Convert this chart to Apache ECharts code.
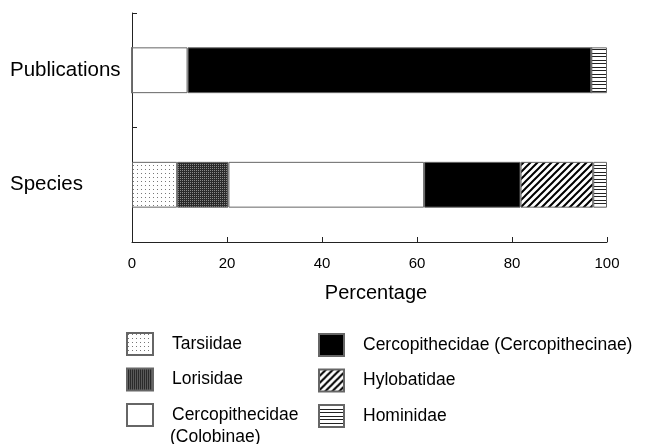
<!DOCTYPE html>
<html>
<head>
<meta charset="utf-8">
<script src="https://cdn.jsdelivr.net/npm/echarts@6/dist/echarts.min.js"></script>
<style>
html,body{margin:0;padding:0;background:#fff;}
#chart{width:651px;height:444px;}
</style>
</head>
<body>
<div id="chart"></div>
<script>
// ---- data ----
var categories = ['Publications', 'Species'];
var tarsiidae = [0, 9.5];
var lorisidae = [0, 10.8];
var colobinae = [11.7, 41.2];
var cercopithecinae = [85.0, 20.3];
var hylobatidae = [0, 15.3];
var hominidae = [3.3, 2.9];
var xTicks = [0, 20, 40, 60, 80, 100];

// ---- patterns ----
function makeCanvas(w, h, draw) {
  var c = document.createElement('canvas');
  c.width = w; c.height = h;
  var ctx = c.getContext('2d');
  draw(ctx, w, h);
  return { image: c, repeat: 'repeat' };
}
var patDots = makeCanvas(4, 4, function (ctx, w, h) {
  ctx.fillStyle = '#fff'; ctx.fillRect(0, 0, w, h);
  ctx.fillStyle = '#777'; ctx.fillRect(1, 1, 1, 1);
});
var patDense = makeCanvas(2, 2, function (ctx, w, h) {
  ctx.fillStyle = '#2a2a2a'; ctx.fillRect(0, 0, w, h);
  ctx.fillStyle = '#8a8a8a'; ctx.fillRect(0, 0, 1, 1);
});
var patDiag = makeCanvas(7, 7, function (ctx, w, h) {
  ctx.fillStyle = '#fff'; ctx.fillRect(0, 0, w, h);
  ctx.strokeStyle = '#000'; ctx.lineWidth = 2;
  ctx.beginPath();
  ctx.moveTo(-1, 1); ctx.lineTo(1, -1);
  ctx.moveTo(0, 7); ctx.lineTo(7, 0);
  ctx.moveTo(6, 8); ctx.lineTo(8, 6);
  ctx.stroke();
});
var patHoriz = makeCanvas(4, 7, function (ctx, w, h) {
  ctx.fillStyle = '#fff'; ctx.fillRect(0, 0, w, h);
  ctx.fillStyle = '#222';
  ctx.fillRect(0, 0, w, 1);
  ctx.fillRect(0, 4, w, 1);
});

var seriesDefs = [
  { name: 'Tarsiidae', data: tarsiidae, color: patDots },
  { name: 'Lorisidae', data: lorisidae, color: patDense },
  { name: 'Cercopithecidae (Colobinae)', data: colobinae, color: '#fff' },
  { name: 'Cercopithecidae (Cercopithecinae)', data: cercopithecinae, color: '#000' },
  { name: 'Hylobatidae', data: hylobatidae, color: patDiag },
  { name: 'Hominidae', data: hominidae, color: patHoriz }
];

var series = seriesDefs.map(function (s) {
  return {
    name: s.name,
    type: 'bar',
    stack: 'total',
    barWidth: '40%',
    data: s.data,
    itemStyle: { color: s.color, borderColor: '#666', borderWidth: 1 },
    emphasis: { disabled: true },
    animation: false
  };
});

var fontFam = 'Liberation Sans, Arial, sans-serif';
var legendText = { fontSize: 17.5, color: '#000', fontFamily: fontFam, padding: [0, 0, 0, 14] };

var chart = echarts.init(document.getElementById('chart'), null, { renderer: 'canvas' });
chart.setOption({
  animation: false,
  backgroundColor: '#fff',
  textStyle: { fontFamily: fontFam },
  grid: { left: 132, right: 44, top: 13, bottom: 202, containLabel: false },
  xAxis: {
    type: 'value',
    min: xTicks[0],
    max: xTicks[xTicks.length - 1],
    interval: xTicks[1] - xTicks[0],
    splitLine: { show: false },
    axisLine: { show: true, lineStyle: { color: '#222', width: 1 } },
    axisTick: { show: true, inside: true, length: 5, lineStyle: { color: '#222' } },
    axisLabel: { fontSize: 15, color: '#000', margin: 14, fontFamily: fontFam },
    name: 'Percentage',
    nameLocation: 'middle',
    nameGap: 41,
    nameTextStyle: { fontSize: 20, color: '#000', fontFamily: fontFam, padding: [0, 0, 0, 13] }
  },
  yAxis: {
    type: 'category',
    inverse: true,
    data: categories,
    axisLine: { show: true, lineStyle: { color: '#222', width: 1 } },
    axisTick: { show: true, inside: true, length: 5, lineStyle: { color: '#222' } },
    axisLabel: { fontSize: 20.5, color: '#000', align: 'left', margin: 122, fontFamily: fontFam, padding: [5, 0, 0, 0] }
  },
  legend: [
    {
      orient: 'vertical',
      left: 126, top: 332,
      padding: 0,
      itemWidth: 26, itemHeight: 22, itemGap: 11.5,
      icon: 'rect',
      selectedMode: false,
      data: ['Tarsiidae', 'Lorisidae', 'Cercopithecidae (Colobinae)'],
      formatter: function (n) { return n === 'Cercopithecidae (Colobinae)' ? 'Cercopithecidae' : n; },
      textStyle: legendText
    },
    {
      orient: 'vertical',
      left: 318, top: 333,
      padding: 0,
      itemWidth: 25, itemHeight: 22, itemGap: 11.5,
      icon: 'rect',
      selectedMode: false,
      data: ['Cercopithecidae (Cercopithecinae)', 'Hylobatidae', 'Hominidae'],
      textStyle: legendText
    }
  ],
  graphic: [
    {
      type: 'text',
      left: 170, top: 428,
      style: { text: '(Colobinae)', fontSize: 17.5, fill: '#000', fontFamily: fontFam }
    }
  ],
  series: series
});
</script>
</body>
</html>
